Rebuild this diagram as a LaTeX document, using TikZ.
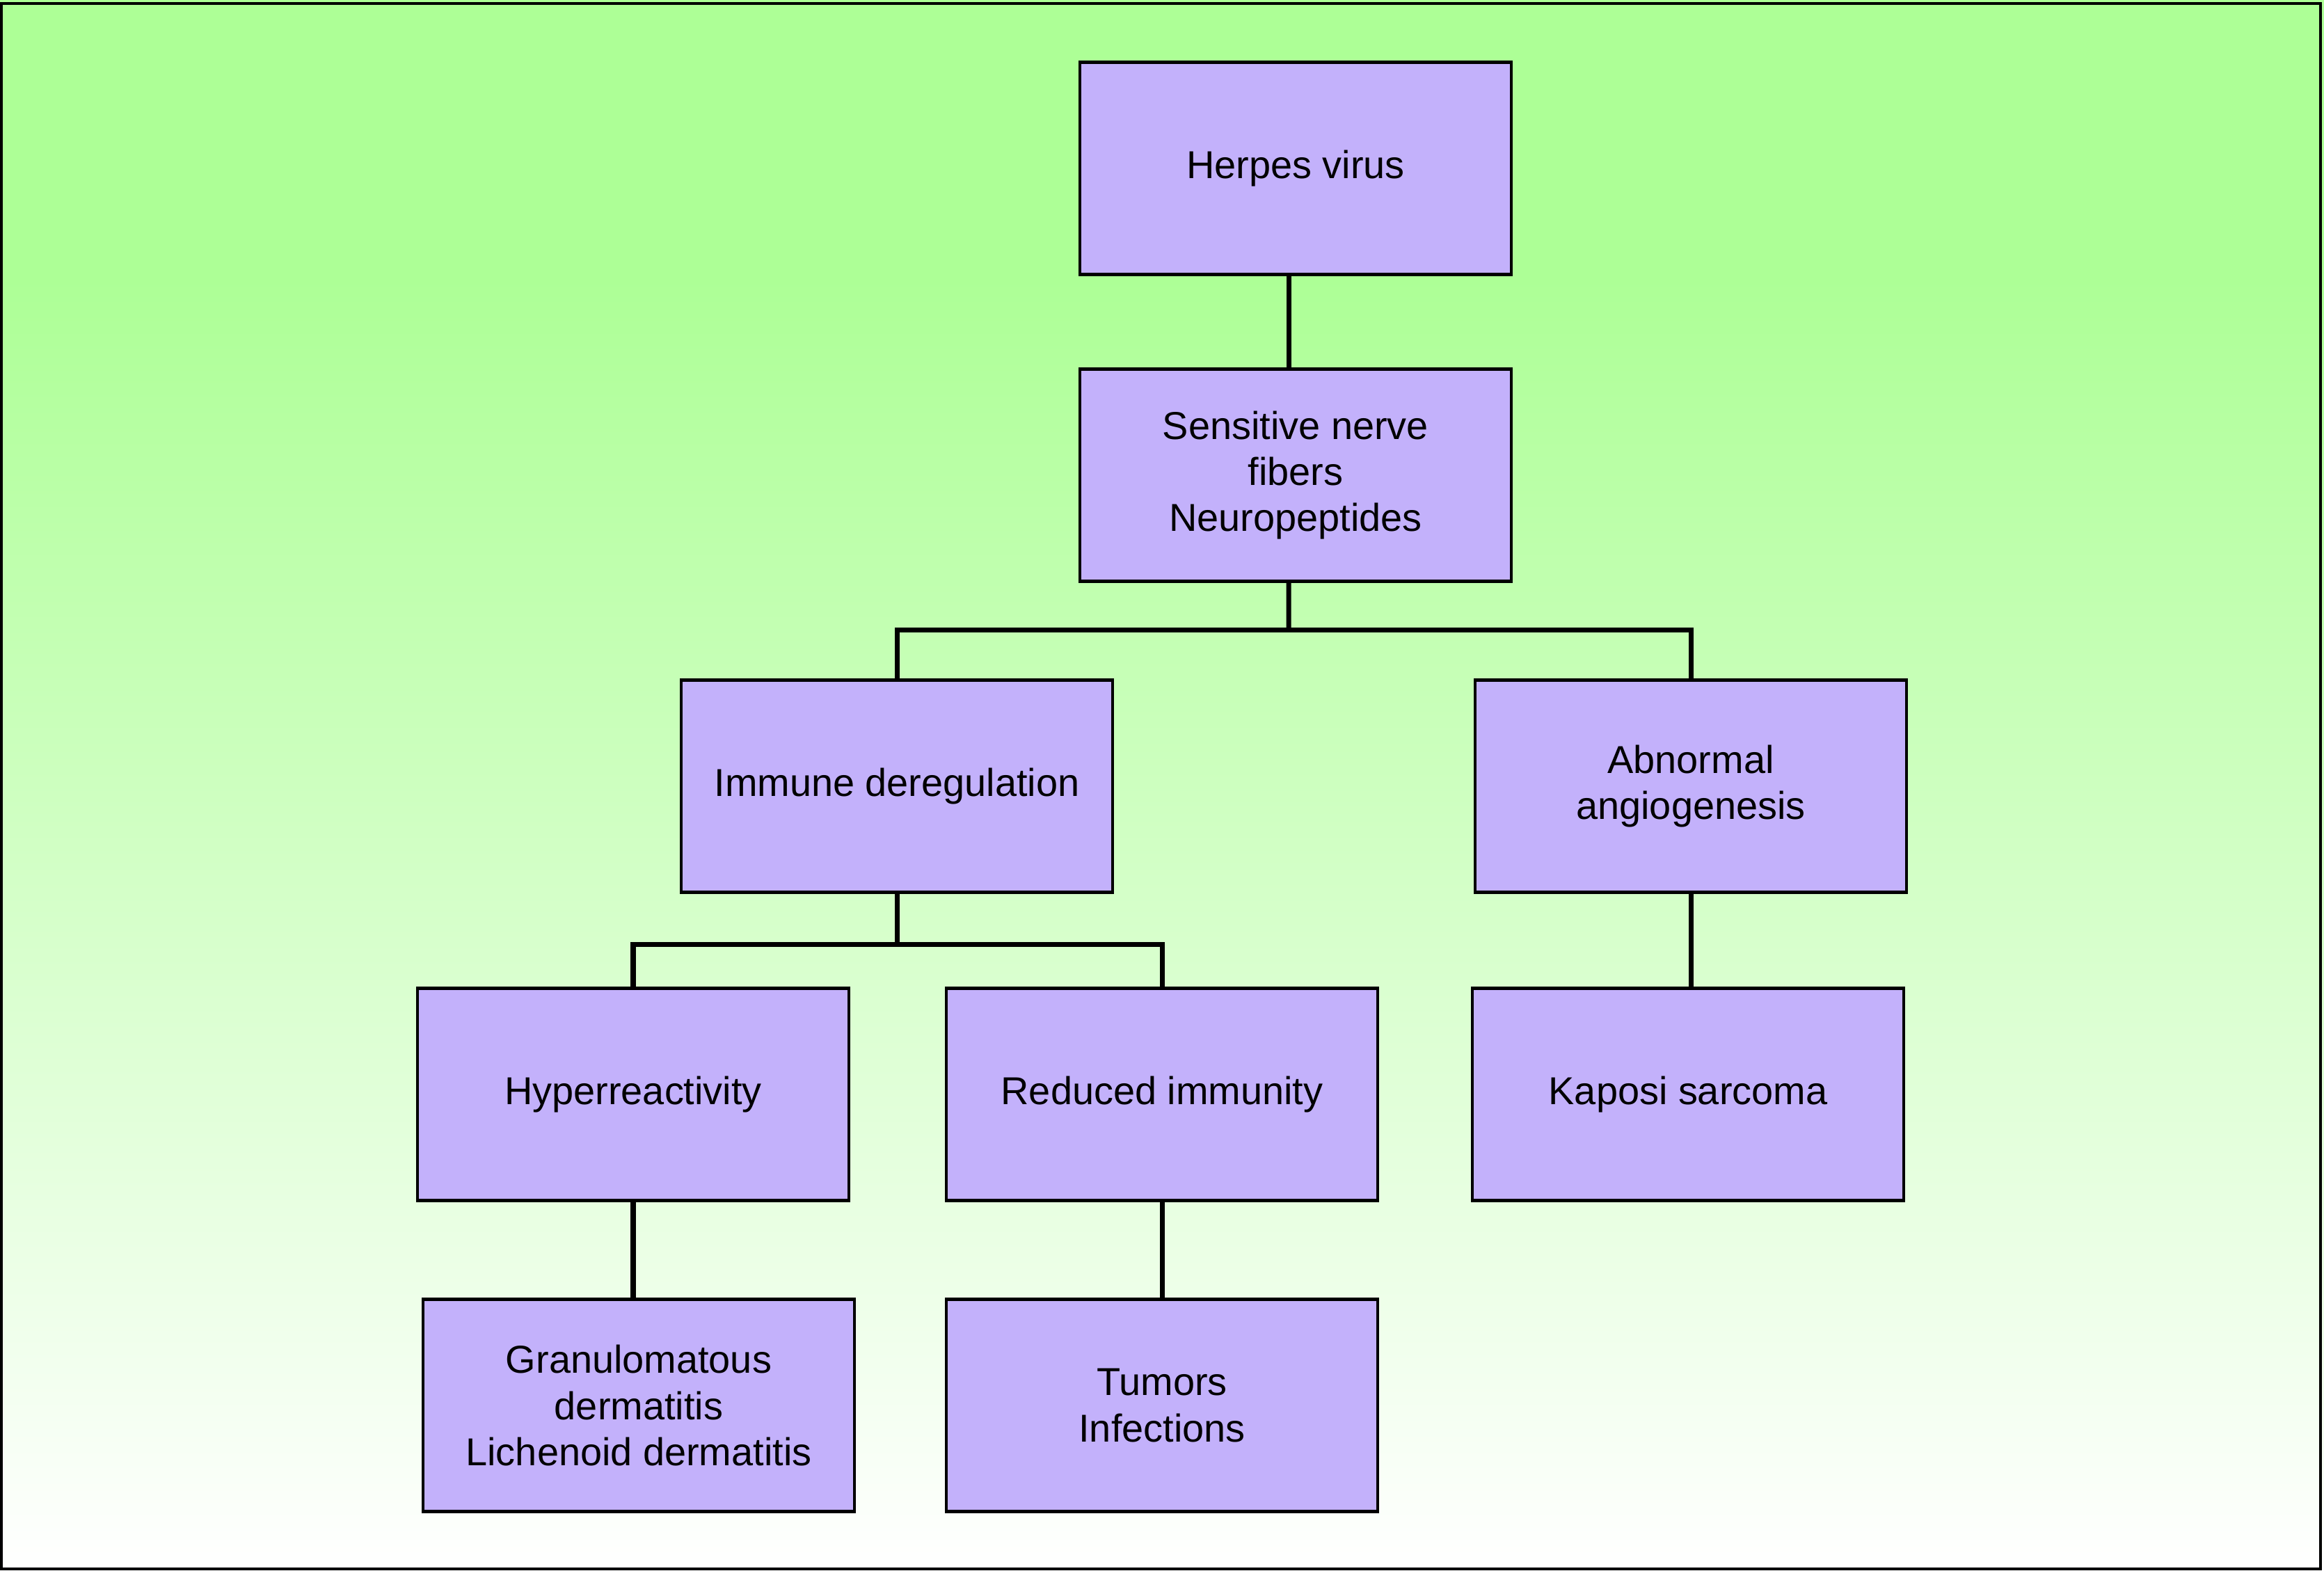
\documentclass[tikz,border=0pt]{standalone}
\definecolor{bggreen}{RGB}{173,255,150}
\definecolor{boxlilac}{RGB}{195,177,251}
\usepackage{xcolor}
\usepackage{fontspec}
\setmainfont{Liberation Sans}
\usepackage{tikz}
\usetikzlibrary{calc}

\begin{document}
\begin{tikzpicture}[
      bx/.style={draw=black,fill=boxlilac,line width=1.2pt,
                minimum width=6.2cm,minimum height=3.05cm,align=center,
                font=\fontsize{15.9}{18.8}\selectfont,text=black},
      ln/.style={line width=2pt,color=black}]
      \useasboundingbox (0,0) rectangle (33.40,-22.57);
      \fill[bggreen] (0,0) rectangle (33.40,-4.02);
      \shade[top color=bggreen,bottom color=white] (0,-4.0) rectangle (33.40,-22.57);
      \draw[line width=1.2pt] (0.02,-0.05) rectangle (33.35,-22.55);

      \node[bx] (hv) at (18.62,-2.42) {Herpes virus};
      \node[bx] (snf) at (18.62,-6.83) {Sensitive nerve\\fibers\\Neuropeptides};
      \node[bx] (imm) at (12.89,-11.30) {Immune deregulation};
      \node[bx] (ang) at (24.30,-11.30) {Abnormal\\angiogenesis};
      \node[bx] (hyp) at (9.10,-15.73) {Hyperreactivity};
      \node[bx] (red) at (16.70,-15.73) {Reduced immunity};
      \node[bx] (kap) at (24.26,-15.73) {Kaposi sarcoma};
      \node[bx] (gra) at (9.18,-20.20) {Granulomatous\\dermatitis\\Lichenoid dermatitis};
      \node[bx] (tum) at (16.70,-20.20) {Tumors\\Infections};

      \coordinate (j1) at ($(snf.south)+(-0.1,-0.68)$);
      \coordinate (j2) at ($(imm.south)+(0,-0.73)$);
      \draw[ln] ([xshift=-1mm]hv.south) -- ([xshift=-1mm]snf.north);
      \draw[ln] ([xshift=-1mm]snf.south) -- (j1);
      \draw[ln] (imm) |- (j1) -| (ang);
      \draw[ln] (imm) -- (j2);
      \draw[ln] (hyp) |- (j2) -| (red);
      \draw[ln] (hyp) -- (hyp |- gra.north);
      \draw[ln] (red) -- (tum);
      \draw[ln] (ang) -- (ang |- kap.north);
    \end{tikzpicture}
\end{document}
